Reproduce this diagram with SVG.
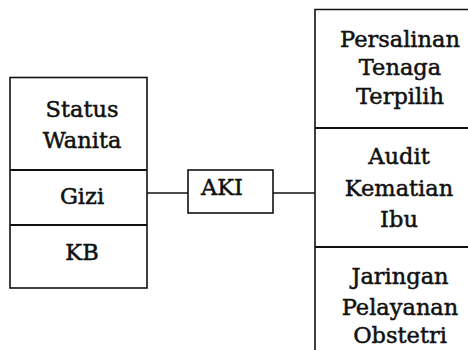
<svg xmlns="http://www.w3.org/2000/svg" width="468" height="350" viewBox="0 0 468 350">
<style>
.box{fill:none;stroke:#111;stroke-width:1.6}
.div{stroke:#111;stroke-width:2}
.ln{stroke:#111;stroke-width:1.6;fill:none}
text{font-family:"DejaVu Serif","Liberation Serif",serif;font-size:22.5px;fill:#111;stroke:#111;stroke-width:0.5;text-anchor:middle}
</style>
<rect width="468" height="350" fill="#fff"/>
<g id="left-stack">
<rect class="box" x="10" y="77.5" width="137" height="210.5"/>
<line class="div" x1="10" y1="170" x2="147" y2="170"/>
<line class="div" x1="10" y1="225" x2="147" y2="225"/>
</g>
<g id="status-wanita"><text x="82" y="117">Status</text><text x="82" y="148">Wanita</text></g>
<g id="gizi"><text x="82" y="204">Gizi</text></g>
<g id="kb"><text x="82" y="260">KB</text></g>
<g id="aki"><rect class="box" x="188" y="170" width="85" height="43"/><text x="222" y="195">AKI</text></g>
<g id="right-stack">
<path class="ln" d="M315 352 V9.5 H470"/>
<line class="div" x1="315" y1="128" x2="470" y2="128"/>
<line class="div" x1="315" y1="247" x2="470" y2="247"/>
</g>
<g id="persalinan"><text x="400" y="47">Persalinan</text><text x="400" y="75">Tenaga</text><text x="400" y="104">Terpilih</text></g>
<g id="audit"><text x="399" y="164">Audit</text><text x="399" y="196">Kematian</text><text x="399" y="227">Ibu</text></g>
<g id="jaringan"><text x="400" y="284">Jaringan</text><text x="400" y="315">Pelayanan</text><text x="400" y="343">Obstetri</text></g>
<g id="connectors">
<line class="ln" x1="147" y1="193" x2="188" y2="193"/>
<line class="ln" x1="273" y1="193" x2="315" y2="193"/>
</g>
</svg>
